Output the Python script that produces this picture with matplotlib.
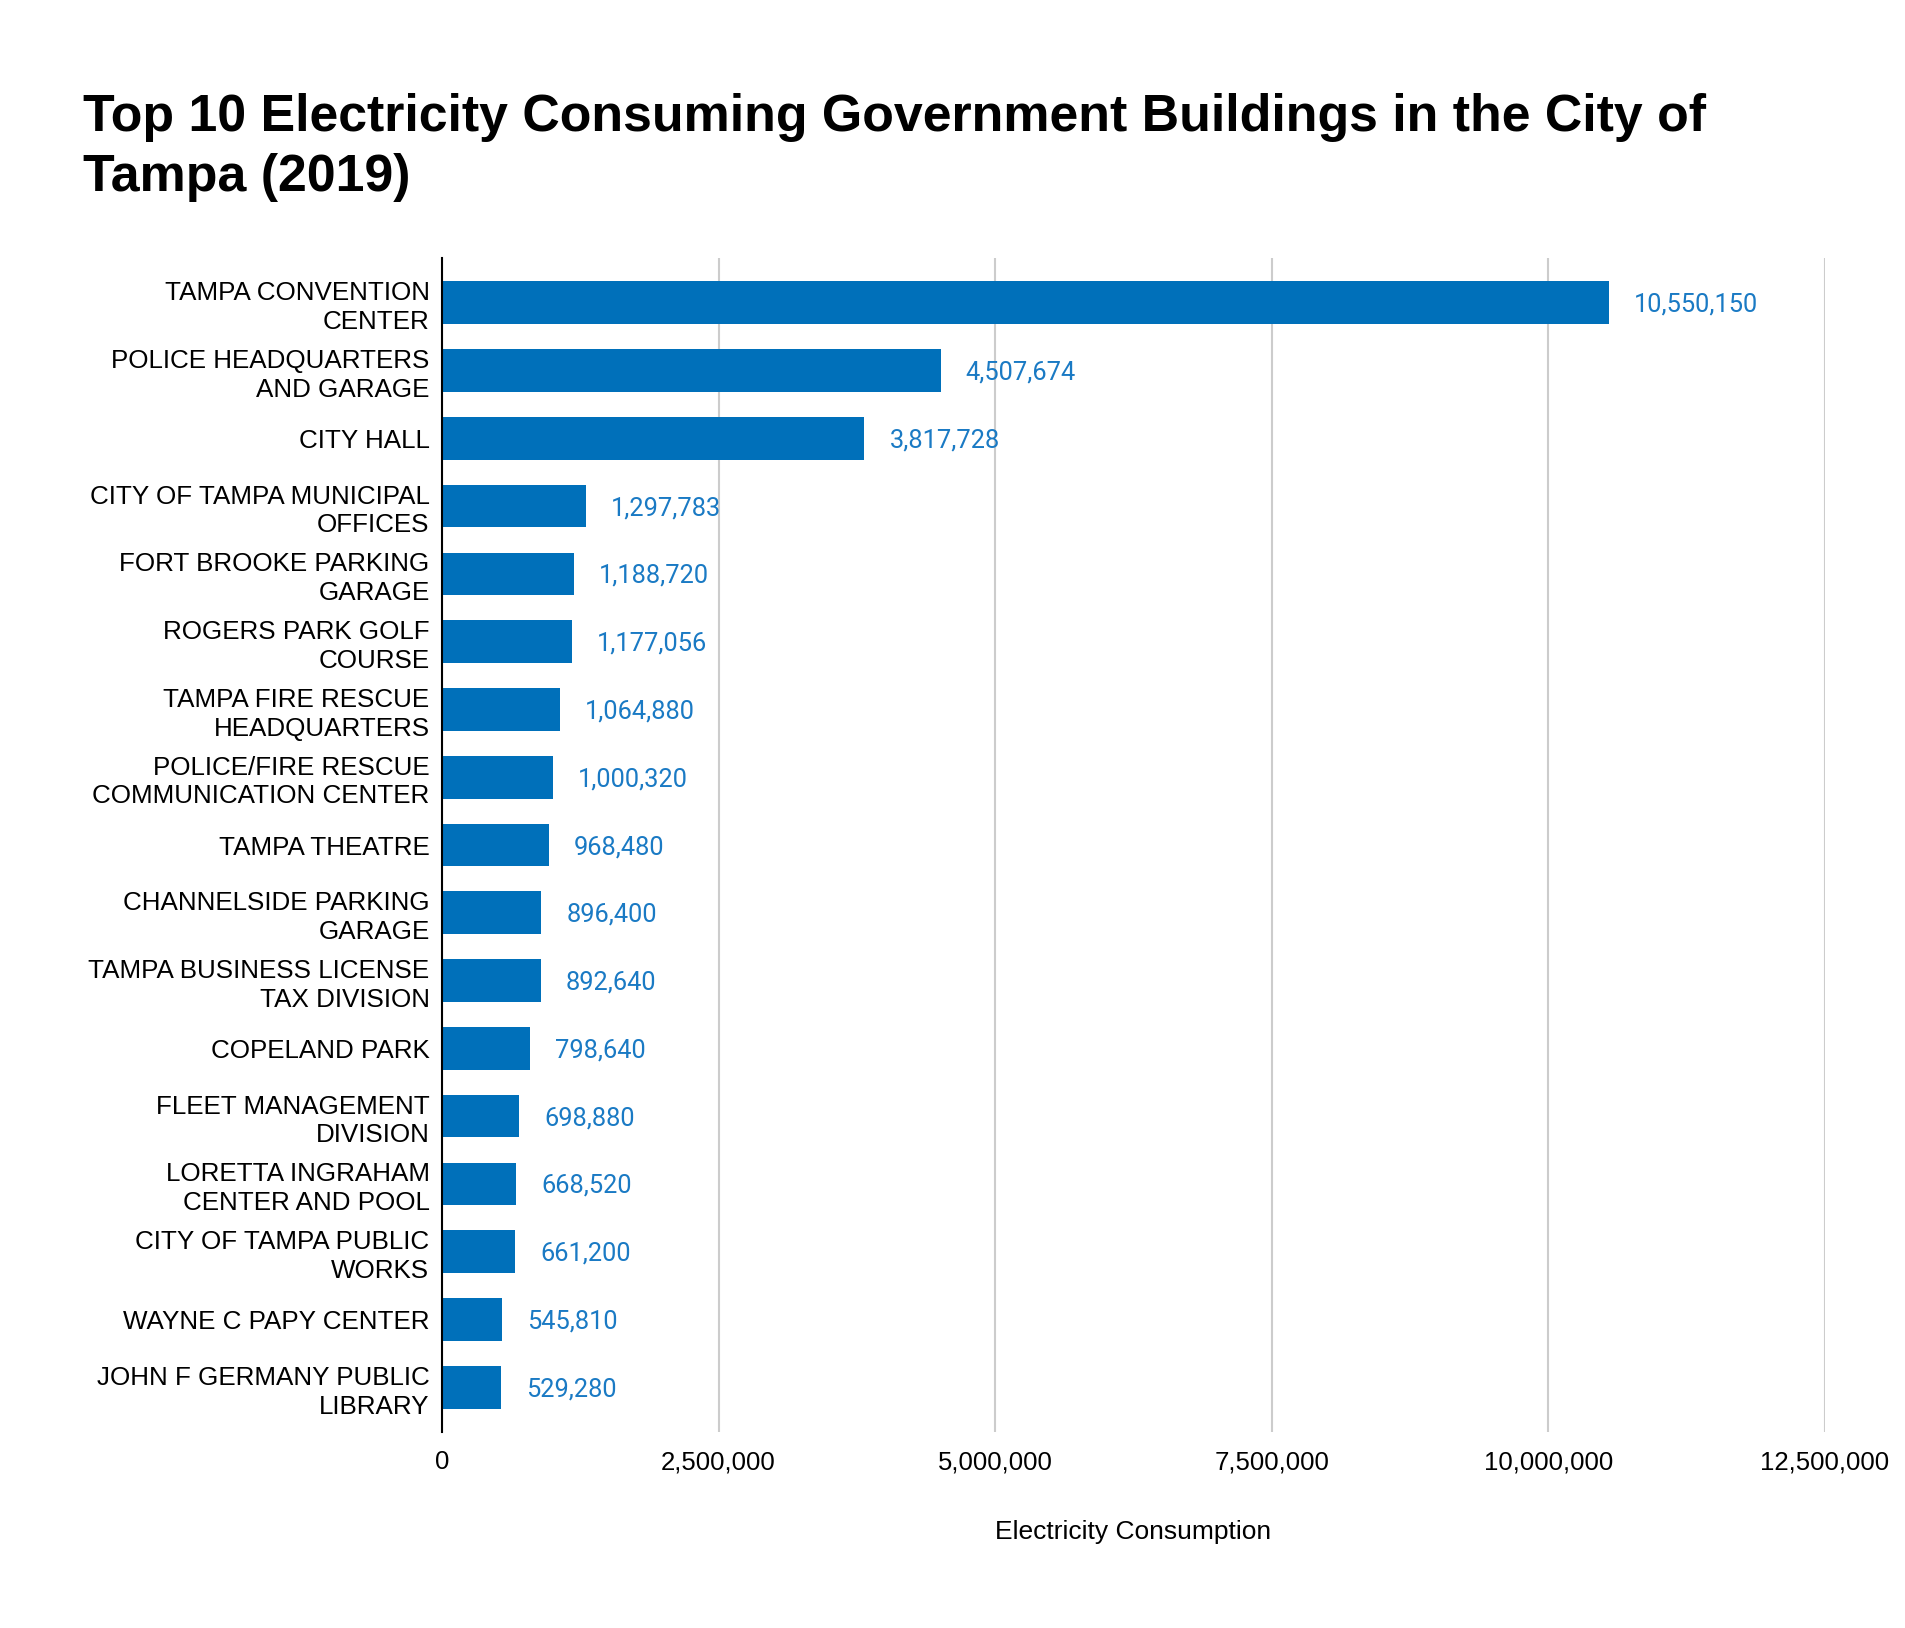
import matplotlib.pyplot as plt
from matplotlib.ticker import FuncFormatter

buildings = [
    "TAMPA CONVENTION\nCENTER",
    "POLICE HEADQUARTERS\nAND GARAGE",
    "CITY HALL",
    "CITY OF TAMPA MUNICIPAL\nOFFICES",
    "FORT BROOKE PARKING\nGARAGE",
    "ROGERS PARK GOLF\nCOURSE",
    "TAMPA FIRE RESCUE\nHEADQUARTERS",
    "POLICE/FIRE RESCUE\nCOMMUNICATION CENTER",
    "TAMPA THEATRE",
    "CHANNELSIDE PARKING\nGARAGE",
    "TAMPA BUSINESS LICENSE\nTAX DIVISION",
    "COPELAND PARK",
    "FLEET MANAGEMENT\nDIVISION",
    "LORETTA INGRAHAM\nCENTER AND POOL",
    "CITY OF TAMPA PUBLIC\nWORKS",
    "WAYNE C PAPY CENTER",
    "JOHN F GERMANY PUBLIC\nLIBRARY",
]
consumption = [10550150, 4507674, 3817728, 1297783, 1188720, 1177056, 1064880,
               1000320, 968480, 896400, 892640, 798640, 698880, 668520, 661200,
               545810, 529280]
x_ticks = [0, 2500000, 5000000, 7500000, 10000000, 12500000]

bar_color = "#0070ba"
label_color = "#1a7ac4"

fig = plt.figure(figsize=(19.06, 16.28), dpi=100)
ax = fig.add_axes([0.2319, 0.1204, 0.9575 - 0.2319, 0.8415 - 0.1204])

y = list(range(len(buildings)))
ax.barh(y, consumption, height=0.63, color=bar_color, zorder=3)

for yi, v in zip(y, consumption):
    ax.annotate(f"{v:,}", (v, yi), xytext=(18, -1.5), textcoords="offset points",
                va="center", ha="left", color=label_color, fontsize=18.3,
                family="Roboto")

ax.set_ylim(len(buildings) - 1 + 0.66, -0.66)
ax.set_xlim(0, 12500000)
ax.set_xticks(x_ticks)
ax.xaxis.set_major_formatter(FuncFormatter(lambda v, p: f"{int(v):,}"))
ax.set_yticks(y)
ax.set_yticklabels(buildings, family="Liberation Sans", fontsize=18.7,
                   linespacing=1.25)
for t in ax.get_xticklabels():
    t.set_family("Liberation Sans")
    t.set_fontsize(18.5)
ax.tick_params(axis="x", length=0, pad=13)
ax.tick_params(axis="y", length=0, pad=9)

ax.grid(axis="x", color="#cccccc", linewidth=1.5, zorder=0)
for s in ["top", "right", "bottom"]:
    ax.spines[s].set_visible(False)
ax.spines["left"].set_color("black")
ax.spines["left"].set_linewidth(1.5)
ax.spines["left"].set_zorder(4)

ax.set_xlabel("Electricity Consumption", family="Liberation Sans", fontsize=19,
              labelpad=33)

fig.text(0.0435, 1 - 131 / 1628, "Top 10 Electricity Consuming Government Buildings in the City of",
         family="Liberation Sans", fontweight="bold", fontsize=37.4, va="baseline")
fig.text(0.0435, 1 - 191 / 1628, "Tampa (2019)",
         family="Liberation Sans", fontweight="bold", fontsize=37.4, va="baseline")

fig.savefig("out.png", dpi=100, facecolor="white")
